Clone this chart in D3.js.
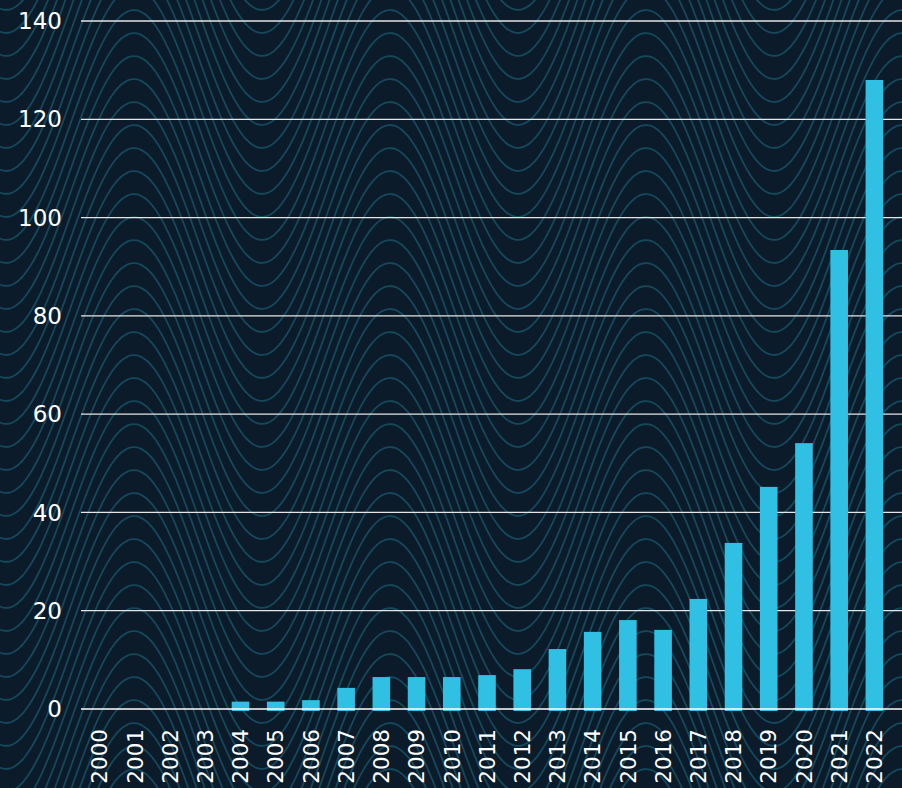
<!DOCTYPE html>
<html>
<head>
<meta charset="utf-8">
<script src="https://cdn.jsdelivr.net/npm/d3@7/dist/d3.min.js"></script>
<style>
  html, body { margin: 0; padding: 0; background: #0b1b2a; }
  svg { display: block; }
  text { font-family: "DejaVu Sans", sans-serif; fill: #ffffff; }
</style>
</head>
<body>
<svg id="chart" width="902" height="788"></svg>
<script>
// Yearly counts, 2000–2022
const years = ["2000","2001","2002","2003","2004","2005","2006","2007","2008","2009","2010","2011",
               "2012","2013","2014","2015","2016","2017","2018","2019","2020","2021","2022"];
const counts = [0, 0, 0, 0, 1.5, 1.5, 1.8, 4.3, 6.5, 6.5, 6.5, 6.9,
                8.1, 12.2, 15.7, 18.1, 16.1, 22.4, 33.8, 45.2, 54.1, 93.4, 128.0];
const yTicks = [0, 20, 40, 60, 80, 100, 120, 140];

const W = 902, H = 788;
const svg = d3.select("#chart");

// Background
svg.append("rect").attr("width", W).attr("height", H).attr("fill", "#0b1b2a");

// Decorative wave pattern: stacked sine curves
const waveAmp = 115, wavePeriod = 256, wavePeak = 134, waveGap = 23;
const waveLine = d3.line().x(d => d[0]).y(d => d[1]).curve(d3.curveBasis);
const waves = svg.append("g").attr("class", "waves");
for (let c = 10 + waveAmp - 23 * 12; c < H + waveAmp + 40; c += waveGap) {
  const pts = d3.range(-4, W + 6, 3).map(x =>
    [x, c - waveAmp * Math.cos(2 * Math.PI * (x - wavePeak) / wavePeriod)]);
  waves.append("path")
    .attr("d", waveLine(pts))
    .attr("fill", "none")
    .attr("stroke", "#14495c")
    .attr("stroke-width", 1.8);
}

// Scales
const x = d3.scaleBand().domain(years).range([82, 892]).paddingInner(0.5).paddingOuter(0.25);
const y = d3.scaleLinear().domain([0, 140]).range([709, 21]);

// Horizontal gridlines
svg.append("g").selectAll("line")
  .data(yTicks.filter(t => t !== 0))
  .join("line")
  .attr("x1", 81).attr("x2", W)
  .attr("y1", d => y(d)).attr("y2", d => y(d))
  .attr("stroke", "#e6e6e6").attr("stroke-width", 1.3);

// Bars
svg.append("g").selectAll("rect")
  .data(years.map((yr, i) => ({ yr, v: counts[i] })).filter(d => d.v > 0))
  .join("rect")
  .attr("x", d => x(d.yr))
  .attr("width", x.bandwidth())
  .attr("y", d => y(d.v))
  .attr("height", d => y(0) - y(d.v) + 2)
  .attr("fill", "#30c0e4");

// Baseline
svg.append("line")
  .attr("x1", 81).attr("x2", W)
  .attr("y1", y(0)).attr("y2", y(0))
  .attr("stroke", "#ffffff").attr("stroke-width", 1.5);

// Y axis labels
const yAxis = d3.axisLeft(y).tickValues(yTicks).tickSize(0).tickPadding(0);
const gy = svg.append("g").attr("transform", "translate(62,0)").call(yAxis);
gy.select(".domain").remove();
gy.selectAll("text")
  .attr("font-size", 23).attr("fill", "#ffffff")
  .attr("font-family", "DejaVu Sans, sans-serif")
  .attr("dy", "0.33em");

// X axis labels (rotated)
const xAxis = d3.axisBottom(x).tickSize(0).tickPadding(0);
const gx = svg.append("g").attr("transform", "translate(0,729)").call(xAxis);
gx.select(".domain").remove();
gx.selectAll("text")
  .attr("font-size", 21.5).attr("fill", "#ffffff")
  .attr("font-family", "DejaVu Sans, sans-serif")
  .attr("text-anchor", "end")
  .attr("transform", "rotate(-90)")
  .attr("x", 0).attr("y", 0).attr("dy", "0.36em");
</script>
</body>
</html>
